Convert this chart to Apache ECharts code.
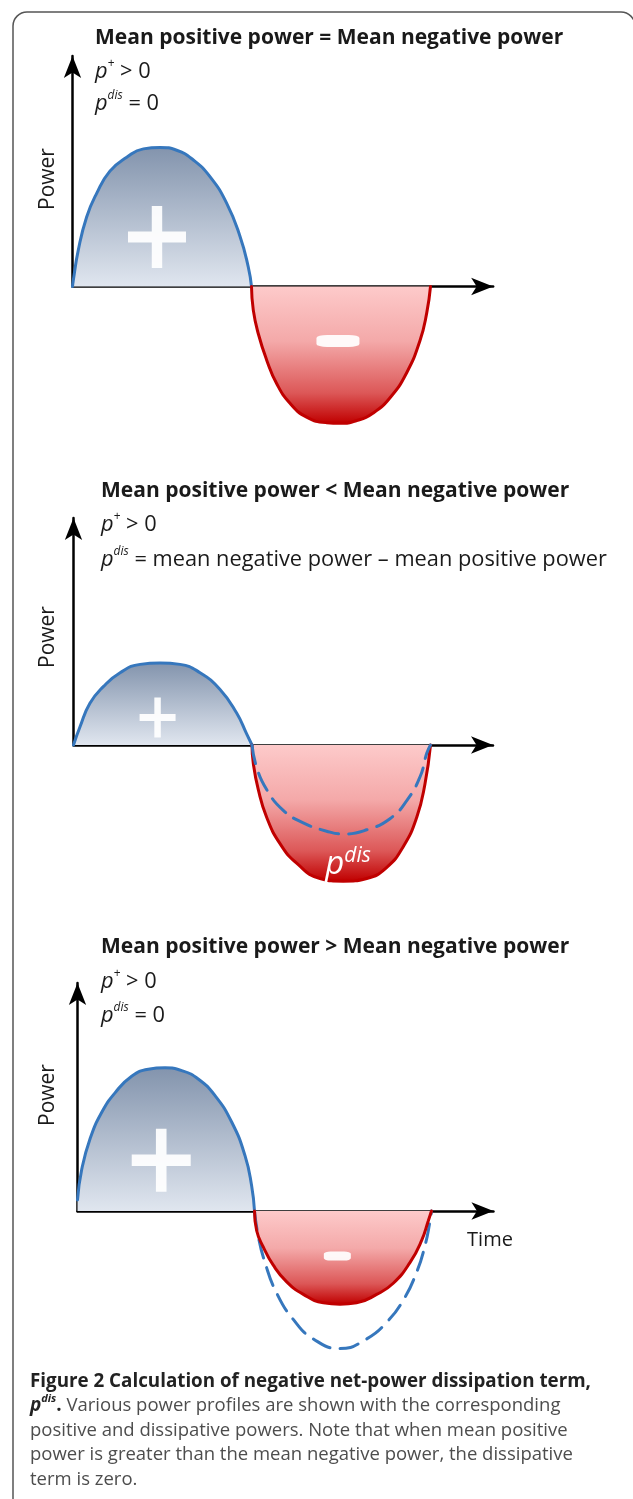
<!DOCTYPE html>
<html>
<head>
<meta charset="utf-8">
<script src="https://cdn.jsdelivr.net/npm/echarts@6/dist/echarts.min.js"></script>
<style>
  body { margin: 0; background: #fff; }
  #chart { width: 633px; height: 1499px; }
</style>
</head>
<body>
<div id="chart"></div>
<script>
// time: one half cycle = 10 units, power: first peak = 10 units
var pos1 = [[0,0],[0.04,0.4],[0.32,2.6],[0.79,5.0],[1.35,6.7],[2.09,8.3],[3.03,9.3],[3.96,9.9],[4.89,10],[5.82,9.8],[6.75,9.1],[7.68,7.9],[8.61,6.0],[9.36,3.6],[9.82,1.4],[10,0]];
var neg1 = [[10,0],[10.1,-1.7],[10.38,-3.4],[10.85,-5.3],[11.41,-7.0],[12.15,-8.4],[13.08,-9.4],[14.2,-9.8],[14.94,-9.84],[15.88,-9.65],[16.8,-9.1],[17.74,-8.0],[18.67,-6.2],[19.41,-3.9],[19.79,-1.9],[20,0]];

var pos2 = [[0,0],[0.36,1.3],[0.92,3.0],[1.67,4.2],[2.61,5.2],[3.73,5.8],[4.85,5.9],[5.97,5.8],[7.09,5.2],[8.21,4.0],[9.14,2.3],[9.7,0.8],[10,0]];
var neg2 = [[10,0],[10.07,-1.3],[10.35,-3.2],[10.82,-5.2],[11.57,-7.1],[12.5,-8.5],[13.81,-9.6],[15.11,-9.8],[16.43,-9.6],[17.55,-8.8],[18.48,-7.3],[19.23,-5.2],[19.69,-2.8],[20,0]];
var dis2 = [[10,0],[10.26,-1.6],[10.82,-3.2],[11.75,-4.7],[12.87,-5.6],[14.18,-6.2],[15.11,-6.4],[16.43,-6.1],[17.73,-5.3],[18.67,-4.0],[19.41,-2.3],[19.79,-0.6],[20,0]];

var pos3 = [[0,0.8],[0.24,3.0],[0.71,5.2],[1.37,7.1],[2.12,8.5],[3.06,9.7],[4.0,10.2],[4.94,10.3],[5.89,10.1],[6.82,9.5],[7.77,8.3],[8.71,6.4],[9.46,4.0],[9.84,1.8],[10,0]];
var neg3 = [[10,0],[10.12,-1.4],[10.5,-2.6],[11.06,-3.9],[11.82,-5.1],[12.76,-6.0],[13.89,-6.6],[14.83,-6.7],[15.77,-6.6],[16.9,-6.0],[17.84,-5.2],[18.79,-3.7],[19.45,-2.1],[19.82,-0.7],[20,0]];
var dis3 = [[10,0],[10.21,-1.8],[10.59,-3.7],[11.25,-5.9],[12.19,-7.8],[13.32,-9.2],[14.83,-9.9],[16.34,-9.2],[17.47,-8.0],[18.41,-6.4],[19.16,-4.4],[19.63,-2.5],[19.92,-0.7],[20,0]];

var titles = [
  'Mean positive power = Mean negative power',
  'Mean positive power < Mean negative power',
  'Mean positive power > Mean negative power'
];
var disLines = ['= 0', '= mean negative power \u2013 mean positive power', '= 0'];

var BLUE = '#3677bd', RED = '#c00000', INK = '#1a1a1a';
var FONT = 'Open Sans';
var ky = 13.9, xMax = 23.5, yMax = 12, yMin = -10.6;

// px layout of each panel
var panels = [
  { left: 72.5, axisY: 286.5, kx: 17.9, arrowTip: 45,  txtLeft: 95,  tTop: 25,  s1Top: 58,  s2Top: 90,   powerY: 179 },
  { left: 73.5, axisY: 745,   kx: 17.85, arrowTip: 507, txtLeft: 101, tTop: 478, s1Top: 511, s2Top: 546,  powerY: 637 },
  { left: 77.5, axisY: 1211,  kx: 17.7, arrowTip: 972, txtLeft: 101, tTop: 934, s1Top: 968, s2Top: 1002, powerY: 1095 }
];

var posFill = new echarts.graphic.LinearGradient(0, 0, 0, 1, [
  { offset: 0, color: '#8394ad' }, { offset: 1, color: '#e0e6ef' }
]);
var negFill = new echarts.graphic.LinearGradient(0, 0, 0, 1, [
  { offset: 0, color: '#fdcaca' }, { offset: 0.4, color: '#f4a9a9' },
  { offset: 0.78, color: '#dc5757' }, { offset: 1, color: '#c00000' }
]);
var PLUS = 'path://M41,0H59V41H100V59H59V100H41V59H0V41H41Z';

var grid = [], xAxis = [], yAxis = [], title = [], series = [], graphic = [];

panels.forEach(function (p, i) {
  // main plotting grid
  grid.push({ left: p.left, top: p.axisY - yMax * ky, width: xMax * p.kx, height: (yMax - yMin) * ky });
  xAxis.push({
    type: 'value', gridIndex: i, min: 0, max: xMax,
    axisLine: { show: true, onZero: true, symbol: ['none', 'arrow'], symbolSize: [13, 22], lineStyle: { color: '#000', width: 2.5 } },
    axisTick: { show: false }, axisLabel: { show: false }, splitLine: { show: false }
  });
  yAxis.push({
    type: 'value', gridIndex: i, min: yMin, max: yMax,
    axisLine: { show: false }, axisTick: { show: false }, axisLabel: { show: false }, splitLine: { show: false }
  });
});

// upward power axis (only above the time axis)
panels.forEach(function (p, i) {
  var top = p.arrowTip + 11;
  grid.push({ left: p.left, top: top, width: 10, height: p.axisY - top });
  xAxis.push({ type: 'value', gridIndex: 3 + i, show: false });
  yAxis.push({
    type: 'value', gridIndex: 3 + i, min: 0, max: 1,
    axisLine: { show: true, symbol: ['none', 'arrow'], symbolSize: [13, 22], lineStyle: { color: '#000', width: 2.5 } },
    axisTick: { show: false }, axisLabel: { show: false }, splitLine: { show: false }
  });
});

function curve(idx, data, color, fill, dashed) {
  return {
    type: 'line', xAxisIndex: idx, yAxisIndex: idx, data: data,
    smooth: 0.5, showSymbol: false, silent: true,
    lineStyle: { color: color, width: 3, type: dashed ? [19, 10] : 'solid', cap: 'round' },
    areaStyle: fill ? { color: fill, opacity: 1 } : undefined
  };
}
// white + / - sign inside a lobe
function sign(coord, symbol, size) {
  return {
    silent: true, symbol: symbol, symbolSize: size, label: { show: false },
    itemStyle: { color: 'rgba(255,255,255,0.93)' },
    data: [{ coord: coord }]
  };
}

var s;
// panel 1
s = curve(0, pos1, BLUE, posFill); s.markPoint = sign([4.72, 3.56], PLUS, [58, 62]); series.push(s);
s = curve(0, neg1, RED, negFill); s.markPoint = sign([14.83, -3.92], 'roundRect', [43, 12]); series.push(s);
// panel 2
s = curve(1, pos2, BLUE, posFill); s.markPoint = sign([4.71, 1.98], PLUS, [36, 40]); series.push(s);
s = curve(1, neg2, RED, negFill);
s.markPoint = {
  silent: true, symbol: 'circle', symbolSize: 0,
  label: {
    show: true, position: 'inside', formatter: '{p|p}{s|dis}',
    rich: {
      p: { fontFamily: FONT, fontStyle: 'italic', fontWeight: 'normal', fontSize: 33, color: '#fff', lineHeight: 38 },
      s: { fontFamily: FONT, fontStyle: 'italic', fontWeight: 'normal', fontSize: 21, color: '#fff', lineHeight: 24, verticalAlign: 'top' }
    }
  },
  data: [{ coord: [15.38, -8.6] }]
};
series.push(s);
series.push(curve(1, dis2, BLUE, null, true));
// panel 3
s = curve(2, pos3, BLUE, posFill); s.markPoint = sign([4.73, 3.65], PLUS, [59, 63]); series.push(s);
series.push(curve(2, dis3, BLUE, null, true));
s = curve(2, neg3, RED, negFill); s.markPoint = sign([14.68, -3.24], 'roundRect', [27, 9]); series.push(s);

// texts
var richSub = {
  i: { fontFamily: FONT, fontStyle: 'italic', fontWeight: 'normal', fontSize: 21.8, color: INK, lineHeight: 28 },
  s: { fontFamily: FONT, fontStyle: 'italic', fontWeight: 'normal', fontSize: 12, color: INK, lineHeight: 15, verticalAlign: 'top' },
  n: { fontFamily: FONT, fontWeight: 'normal', fontSize: 21.8, color: INK, lineHeight: 28 }
};
panels.forEach(function (p, i) {
  title.push({
    left: p.txtLeft, top: p.tTop, padding: 0, text: titles[i],
    textStyle: { fontFamily: FONT, fontWeight: 'bold', fontSize: 21, color: INK, lineHeight: 26 }
  });
  title.push({ left: p.txtLeft, top: p.s1Top, padding: 0, text: '{i|p}{s|+}{n| > 0}', textStyle: { rich: richSub } });
  title.push({ left: p.txtLeft, top: p.s2Top, padding: 0, text: '{i|p}{s|dis}{n| ' + disLines[i] + '}', textStyle: { rich: richSub } });
  graphic.push({
    type: 'text', x: 48, y: p.powerY, rotation: Math.PI / 2, silent: true,
    style: { text: 'Power', fontFamily: FONT, fontSize: 21, fill: INK, align: 'center', verticalAlign: 'middle', textAlign: 'center', textVerticalAlign: 'middle' }
  });
});
graphic.push({
  type: 'text', x: 490, y: 1240, silent: true,
  style: { text: 'Time', fontFamily: FONT, fontSize: 20, fill: INK, align: 'center', verticalAlign: 'middle', textAlign: 'center', textVerticalAlign: 'middle' }
});
graphic.push({
  type: 'rect', silent: true, z: -1,
  shape: { x: 13, y: 12, width: 622, height: 1560, r: 14 },
  style: { fill: 'none', stroke: '#555', lineWidth: 1.5 }
});

// caption
title.push({
  left: 30, top: 1369, padding: 0,
  text: '{b|Figure 2 Calculation of negative net-power dissipation term,}\n' +
        '{bi|p}{bs|dis}{b|.}{r| Various power profiles are shown with the corresponding}\n' +
        '{r|positive and dissipative powers. Note that when mean positive}\n' +
        '{r|power is greater than the mean negative power, the dissipative}\n' +
        '{r|term is zero.}',
  textStyle: {
    rich: {
      b: { fontFamily: FONT, fontWeight: 'bold', fontSize: 18.8, color: '#222', lineHeight: 24.5 },
      bi: { fontFamily: FONT, fontWeight: 'bold', fontStyle: 'italic', fontSize: 19, color: '#222', lineHeight: 24.5 },
      bs: { fontFamily: FONT, fontWeight: 'bold', fontStyle: 'italic', fontSize: 11, color: '#222', lineHeight: 13, verticalAlign: 'top' },
      r: { fontFamily: FONT, fontWeight: 'normal', fontSize: 18.5, color: '#4d4d4d', lineHeight: 24.5 }
    }
  }
});

var myChart = echarts.init(document.getElementById('chart'));
myChart.setOption({
  animation: false,
  backgroundColor: '#fff',
  title: title,
  grid: grid,
  xAxis: xAxis,
  yAxis: yAxis,
  series: series,
  graphic: graphic
});
</script>
</body>
</html>
